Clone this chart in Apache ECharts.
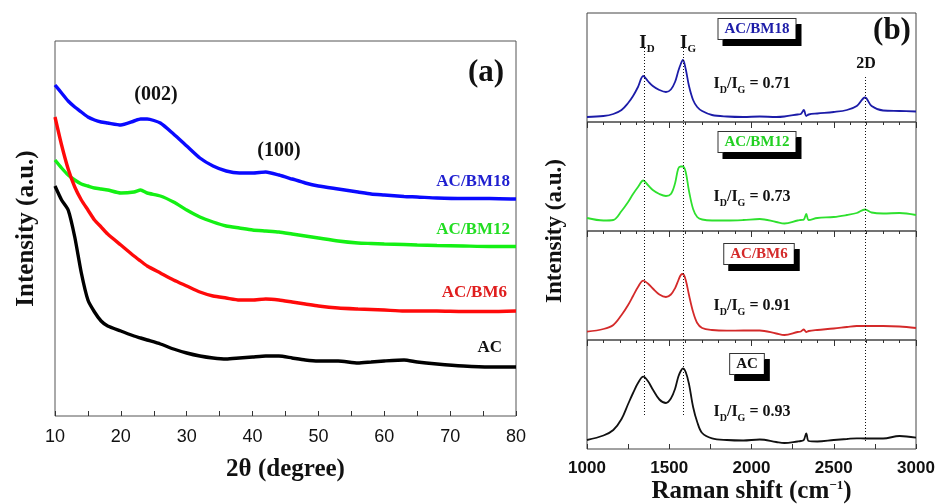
<!DOCTYPE html>
<html>
<head>
<meta charset="utf-8">
<script src="https://cdn.jsdelivr.net/npm/echarts@6/dist/echarts.min.js"></script>
<style>
    html, body { margin: 0; padding: 0; background: #fff; }
    #chart { width: 936px; height: 504px; }
</style>
</head>
<body>
<div id="chart"></div>
<script>
// (a) XRD patterns, intensity in arbitrary units (offset curves)
const xrdAngle = [10, 11, 12, 13, 14, 15, 16, 17, 18, 20, 22, 23, 24, 26, 28, 30, 32, 34, 36, 38,
    40, 42, 44, 46, 48, 50, 53, 56, 58, 60, 63, 65, 68, 72, 76, 80];
const xrdBM18 = [331, 323, 315, 309, 304, 299, 296, 294, 293, 291, 295, 297, 297, 293, 282, 270, 258, 250, 245, 243,
    243, 244, 241, 237, 233, 230, 227, 224, 222, 221, 219.5, 219, 218, 217.5, 217.5, 217];
const xrdBM12 = [256, 248, 241, 236, 232, 230, 228, 227, 226, 223, 224, 226, 223, 220, 214, 206, 199, 194, 190, 188,
    186, 185, 184, 182, 180, 178, 175, 173, 172.5, 172, 171.5, 171, 170.5, 170, 169.5, 169.5];
const xrdBM6 = [299, 271, 247, 229, 216, 206, 196, 189, 182, 171, 160, 155, 150, 143, 136, 130, 124, 120, 118, 116,
    116, 117, 116, 114, 112, 110, 108, 107, 106.5, 106, 105, 105, 105, 104.5, 104.5, 105];
const xrdAC = [230, 216, 206, 179, 143, 116, 104, 95, 90, 85, 80, 78, 76, 72, 67, 63, 60, 58, 57, 58,
    59, 60, 60, 58, 56, 55, 55, 53, 54, 55, 56, 54, 52, 50, 49, 49];

// (b) Raman spectra, one panel per sample
const ramanShift = [1000, 1100, 1160, 1210, 1250, 1280, 1310, 1342, 1370, 1400, 1440, 1480, 1510, 1535, 1555, 1570,
    1583, 1600, 1620, 1645, 1670, 1700, 1760, 1850, 1950, 2050, 2150, 2200, 2280, 2300, 2318, 2333, 2348,
    2400, 2500, 2580, 2640, 2690, 2730, 2800, 2900, 3000];
const ramanBM18 = [5, 6, 8, 12, 19, 26, 35, 46, 41, 36, 32, 30, 32.5, 40, 51, 58,
    62, 53, 36, 22, 15, 11, 7, 5.5, 5, 5.5, 5, 5.5, 7.5, 8, 12, 6, 7.5,
    8.5, 10, 12, 16, 24.5, 16, 11.5, 11, 10.5];
const ramanBM12 = [13, 10.5, 11, 20, 29, 37, 44, 50.5, 46, 41, 37, 35, 37, 47.5, 62.5, 64.5,
    64.5, 59, 40, 22, 14, 11.5, 10.5, 10.5, 11, 12, 9, 7.5, 10.5, 11, 11.5, 17, 11,
    13, 14, 16, 18, 21.5, 18.5, 17.5, 18, 16];
const ramanBM6 = [8.3, 11, 15, 25, 35, 44, 53, 59.3, 56.5, 51.5, 45.5, 43, 45.5, 51.7, 59.5, 65,
    66, 60, 45, 28, 17, 12, 10, 9.3, 9.5, 9.5, 6.5, 5, 8, 8.5, 10.5, 8, 9,
    10, 11.5, 13, 14, 14, 14, 14, 13.5, 12];
const ramanAC = [9, 13.5, 19, 30, 45, 56, 66, 72.3, 68, 59.5, 49.5, 46, 50.5, 60, 72.3, 78,
    80.7, 77, 65, 42, 27, 16, 10.7, 9, 8.5, 9.5, 7, 6, 7.5, 8, 9, 15.7, 8,
    7.5, 9, 10, 10.7, 10.5, 10.5, 10.5, 13, 11.3];

// peak positions marked with dotted lines
const peakD = 1345;
const peakG = 1585;
const peak2D = 2690;
const ratios = ['0.71', '0.73', '0.91', '0.93'];

const serif = '"Liberation Serif", "Times New Roman", serif';
const sans = '"Liberation Sans", Arial, sans-serif';

const pairs = (xs, ys) => xs.map((x, i) => [x, ys[i]]);

let chart = echarts.init(document.getElementById('chart'));

// right side panels from top to bottom
const ramanPanels = [
    { name: 'AC/BM18', data: ramanBM18, color: '#1c1ca8', text: '#1c1ca8' },
    { name: 'AC/BM12', data: ramanBM12, color: '#2ee02e', text: '#22d022' },
    { name: 'AC/BM6', data: ramanBM6, color: '#d42a2a', text: '#d42a2a' },
    { name: 'AC', data: ramanAC, color: '#111', text: '#111' }
];
const panelTop = 13;
const panelH = 109;

const grids = [{ left: 55, top: 41, width: 461, height: 375, show: true, borderColor: '#555', borderWidth: 1, outerBoundsMode: 'none' }];
const xAxes = [{
    gridIndex: 0, type: 'value', min: 10, max: 80, interval: 10,
    axisLine: { show: false },
    axisTick: { inside: true, length: 5, lineStyle: { color: '#333' } },
    minorTick: { show: true, splitNumber: 2, length: 5, lineStyle: { color: '#333' } },
    splitLine: { show: false },
    axisLabel: { fontSize: 18, fontFamily: sans, color: '#111', margin: 12, formatter: v => String(v) },
    name: '2θ (degree)', nameLocation: 'middle', nameGap: 41,
    nameTextStyle: { fontSize: 25, fontWeight: 'bold', fontFamily: serif, color: '#111' }
}];
const yAxes = [{
    gridIndex: 0, type: 'value', min: 0, max: 375,
    axisLine: { show: false }, axisTick: { show: false }, axisLabel: { show: false }, splitLine: { show: false },
    name: 'Intensity (a.u.)', nameLocation: 'middle', nameGap: 16,
    nameTextStyle: { fontSize: 25, fontWeight: 'bold', fontFamily: serif, color: '#111' }
}];

ramanPanels.forEach((p, i) => {
    const last = i === ramanPanels.length - 1;
    grids.push({
        left: 587, top: panelTop + i * panelH, width: 329, height: panelH,
        show: true, borderColor: '#444', borderWidth: 1, outerBoundsMode: 'none'
    });
    xAxes.push({
        gridIndex: i + 1, type: 'value', min: 1000, max: 3000, interval: 500,
        axisLine: { show: false },
        axisTick: last ? { inside: true, length: 5, lineStyle: { color: '#333' } }
                       : { inside: false, length: 6, lineStyle: { color: '#333' } },
        minorTick: { show: true, splitNumber: last ? 2 : 5, length: last ? 5 : 3, lineStyle: { color: '#333' } },
        splitLine: { show: false },
        axisLabel: last ? { fontSize: 17, fontWeight: 'bold', fontFamily: sans, color: '#111', margin: 11, formatter: v => String(v) }
                        : { show: false },
        name: last ? 'Raman shift (cm{sup|−1})' : '',
        nameLocation: 'middle', nameGap: 30,
        nameTextStyle: {
            fontSize: 25, fontWeight: 'bold', fontFamily: serif, color: '#111',
            rich: { sup: { fontSize: 13, fontWeight: 'bold', fontFamily: serif, color: '#111', verticalAlign: 'top', lineHeight: 12 } }
        }
    });
    yAxes.push({
        gridIndex: i + 1, type: 'value', min: 0, max: panelH,
        axisLine: { show: false }, axisTick: { show: false }, axisLabel: { show: false }, splitLine: { show: false }
    });
});

// overlay grid over the four Raman panels, only for the dotted peak lines
grids.push({ left: 587, top: panelTop, width: 329, height: panelH * 4, show: false, outerBoundsMode: 'none' });
xAxes.push({ gridIndex: 5, type: 'value', min: 1000, max: 3000, show: false });
yAxes.push({
    gridIndex: 5, type: 'value', min: 0, max: panelH * 4,
    axisLine: { show: false }, axisTick: { show: false }, axisLabel: { show: false }, splitLine: { show: false },
    name: 'Intensity (a.u.)', nameLocation: 'middle', nameGap: 20,
    nameTextStyle: { fontSize: 23, fontWeight: 'bold', fontFamily: serif, color: '#111' }
});

const xrdSeries = [
    { name: 'AC/BM18', data: xrdBM18, color: '#0a0aff' },
    { name: 'AC/BM12', data: xrdBM12, color: '#14f014' },
    { name: 'AC/BM6', data: xrdBM6, color: '#ff0a0a' },
    { name: 'AC', data: xrdAC, color: '#000' }
];

const series = [];
xrdSeries.forEach(s => {
    series.push({
        name: s.name, type: 'line', xAxisIndex: 0, yAxisIndex: 0,
        data: pairs(xrdAngle, s.data), showSymbol: false, smooth: 0.2,
        lineStyle: { color: s.color, width: 3.4 }
    });
});
ramanPanels.forEach((p, i) => {
    series.push({
        name: p.name, type: 'line', xAxisIndex: i + 1, yAxisIndex: i + 1,
        data: pairs(ramanShift, p.data), showSymbol: false, smooth: 0.35,
        lineStyle: { color: p.color, width: 1.8 }
    });
});
series.push({
    name: 'peaks', type: 'line', xAxisIndex: 5, yAxisIndex: 5, data: [],
    markLine: {
        silent: true, symbol: ['none', 'none'], label: { show: false },
        lineStyle: { color: '#111', type: [1, 2], width: 1 },
        data: [
            [{ coord: [peakD, 401] }, { coord: [peakD, 32] }],
            [{ coord: [peakG, 401] }, { coord: [peakG, 32] }],
            [{ coord: [peak2D, 372] }, { coord: [peak2D, 6] }]
        ]
    }
});

// text helpers
const txt = (x, y, text, font, fill, align) => ({
    type: 'text', x: x, y: y, silent: true,
    style: { text: text, font: font, fill: fill || '#111', align: align || 'center', verticalAlign: 'middle' }
});
const subRich = {
    m: { fontSize: 16, fontWeight: 'bold', fontFamily: serif, fill: '#111', color: '#111', lineHeight: 22, verticalAlign: 'middle' },
    s: { fontSize: 10, fontWeight: 'bold', fontFamily: serif, fill: '#111', color: '#111', lineHeight: 10, verticalAlign: 'bottom' }
};
const richTxt = (x, y, text, big) => ({
    type: 'text', x: x, y: y, silent: true,
    style: {
        text: text, align: 'center', verticalAlign: 'middle',
        rich: big ? {
            m: Object.assign({}, subRich.m, { fontSize: 19, lineHeight: 24 }),
            s: Object.assign({}, subRich.s, { fontSize: 11 })
        } : subRich
    }
});
const boxTxt = (x, y, text, color) => ({
    type: 'text', x: x, y: y, silent: true,
    style: {
        text: text, font: 'bold 15px ' + serif, fill: color, align: 'center', verticalAlign: 'middle',
        backgroundColor: '#fff', borderColor: '#333', borderWidth: 1, padding: [3, 6, 2, 6],
        shadowColor: '#000', shadowBlur: 0, shadowOffsetX: 5, shadowOffsetY: 6
    }
});

const bold = (size) => 'bold ' + size + 'px ' + serif;
const graphic = [
    txt(486, 73, '(a)', bold(31)),
    txt(156, 95, '(002)', bold(20)),
    txt(279, 151, '(100)', bold(20)),
    txt(510, 182, 'AC/BM18', bold(17), '#1f1fd0', 'right'),
    txt(510, 230, 'AC/BM12', bold(17), '#22dd22', 'right'),
    txt(507, 293, 'AC/BM6', bold(17), '#e01e1e', 'right'),
    txt(502, 348, 'AC', bold(17), '#111', 'right'),
    txt(892, 31, '(b)', bold(31)),
    richTxt(647, 43, '{m|I}{s|D}', true),
    richTxt(688, 43, '{m|I}{s|G}', true),
    txt(866, 64, '2D', bold(16)),
    boxTxt(757, 29, 'AC/BM18', ramanPanels[0].text),
    boxTxt(757, 142, 'AC/BM12', ramanPanels[1].text),
    boxTxt(759, 254, 'AC/BM6', ramanPanels[2].text),
    boxTxt(747, 364, 'AC', ramanPanels[3].text)
];
[84, 197, 306, 412].forEach((y, i) => {
    graphic.push(richTxt(752, y, '{m|I}{s|D}{m|/I}{s|G}{m| = ' + ratios[i] + '}'));
});

const option = {
    animation: false,
    backgroundColor: '#fff',
    grid: grids,
    xAxis: xAxes,
    yAxis: yAxes,
    series: series,
    graphic: graphic
};

chart.setOption(option);

window.addEventListener('resize', () => chart.resize());
</script>
</body>
</html>
